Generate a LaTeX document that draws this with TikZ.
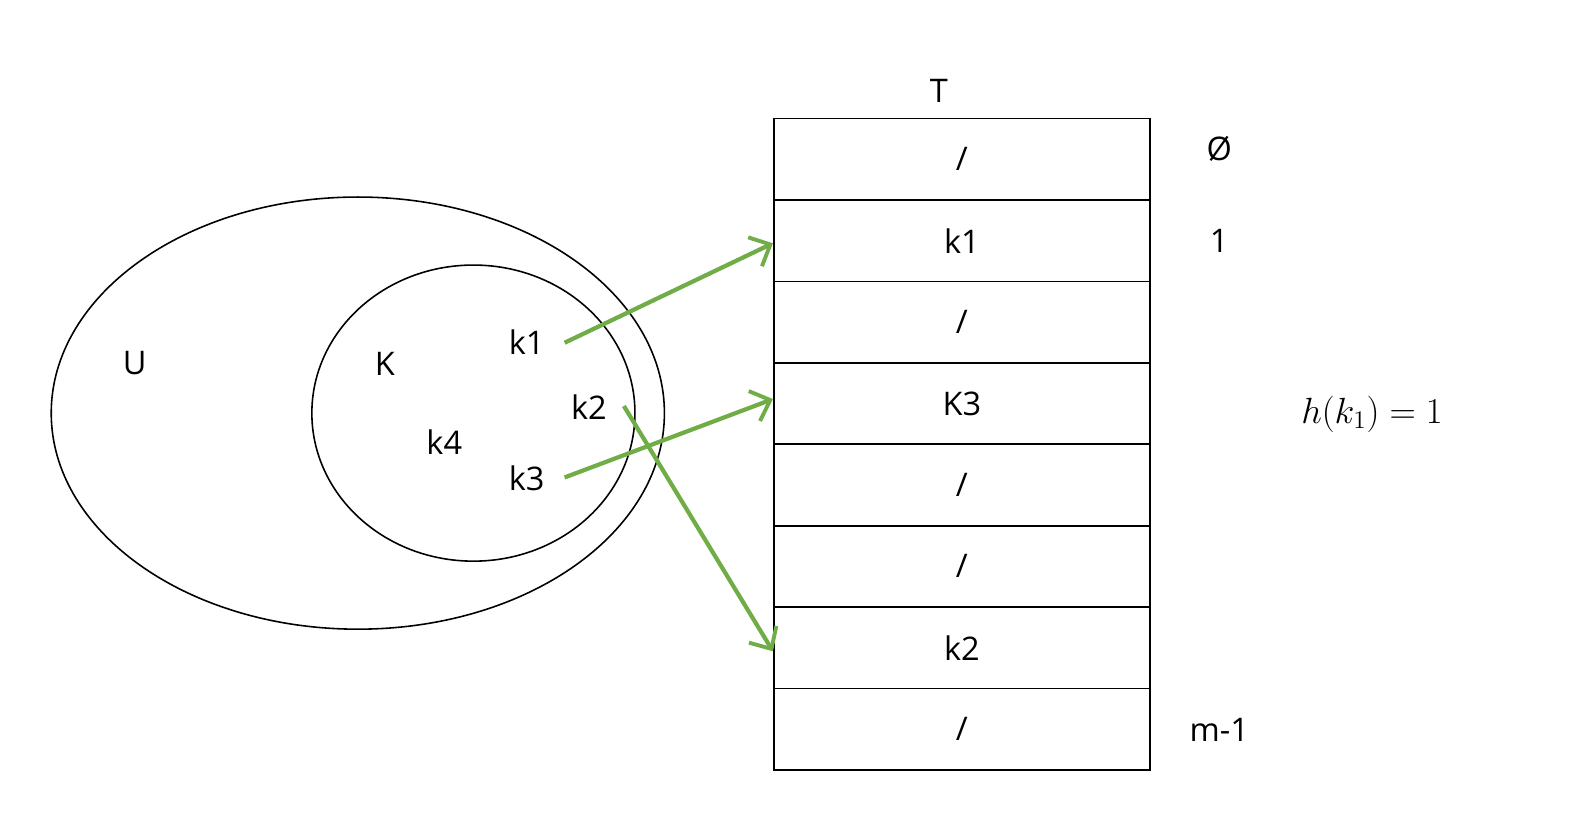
\documentclass[tikz,border=0pt]{standalone}
\usepackage{fontspec}
\setmainfont{Open Sans}
\usetikzlibrary{arrows.meta}
\tikzset{
    slot/.style ={rectangle,minimum width = 7.52cm, minimum height = 1.63cm, draw, line width=1pt, inner sep=0pt},
    lbl/.style ={inner sep=1pt},
    hash/.style ={line width=2.4pt, -{Straight Barb[length=3.4mm,width=6.4mm,line width=2.2pt]}}}
\definecolor{arrgreen}{RGB}{112,173,71}
\begin{document}
\begin{tikzpicture}[x=0.0201cm,y=-0.0201cm,every node/.append style={font=\fontsize{18.5}{22}\selectfont}]
        \useasboundingbox (0,0) rectangle (1568,822);
        % universe and key set
        \draw[line width=0.9pt] (356,411) ellipse [x radius=6.13cm, y radius=4.32cm];
        \draw[line width=0.9pt] (471,411) ellipse [x radius=3.23cm, y radius=2.96cm];
        \node[lbl](U)  at (134,361) {U};
        \node[lbl](K)  at (383,362) {K};
        \node[lbl](k1) at (524,340) {k1};
        \node[lbl](k2) at (586,405) {k2};
        \node[lbl](k4) at (442,440) {k4};
        \node[lbl](k3) at (524,476) {k3};
        % table
        \node(T) at (934,90) {T};
        \node[slot](r1) at (957,158.5) {/};
        \node[slot](r2) at (957,239.5) {k1};
        \node[slot](r3) at (957,320.5) {/};
        \node[slot](r4) at (957,401.5) {K3};
        \node[slot](r5) at (957,482.5) {/};
        \node[slot](r6) at (957,563.5) {/};
        \node[slot](r7) at (957,644.5) {k2};
        \node[slot](r8) at (957,725.5) {/};
        \node(i1) at (1213,148) {Ø};
        \node(i2) at (1213,240) {1};
        \node(im) at (1213,726) {m-1};
        \node[font=\fontsize{21}{25}\selectfont](hk) at (1365,412) {$h(k_1)=1$};
        % hashing
        \draw[hash,draw=arrgreen] ([xshift=0.36cm,yshift=-0.02cm]k1.east) -- ([yshift=-0.05cm]r2.west);
        \draw[hash,draw=arrgreen] ([xshift=0.36cm,yshift=0.02cm]k3.east) -- ([yshift=0.09cm]r4.west);
        \draw[hash,draw=arrgreen] ([xshift=0.3cm,yshift=0.02cm]k2.east) -- ([yshift=-0.07cm]r7.west);
\end{tikzpicture}
\end{document}
